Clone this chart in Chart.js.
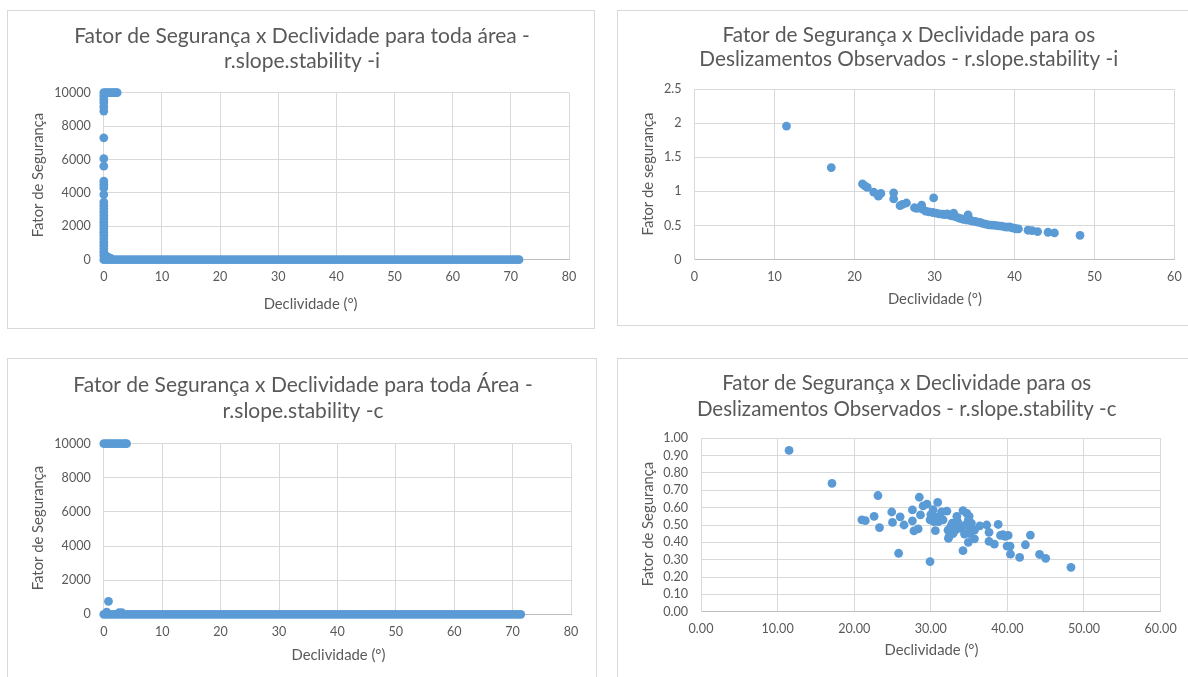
<!DOCTYPE html>
<html><head><meta charset="utf-8">
<script src="https://cdn.jsdelivr.net/npm/chart.js@4.4.0/dist/chart.umd.min.js"></script>
<style>
html,body{margin:0;padding:0;background:#fff;width:1188px;height:677px;overflow:hidden;position:relative;}
canvas{position:absolute;}
</style></head><body>
<canvas id="c1"></canvas><canvas id="c2"></canvas><canvas id="c3"></canvas><canvas id="c4"></canvas>
<script>
// ---------------- DATA ----------------
// Panel 1: whole area, r.slope.stability -i
const areaICapSlope = [0, 0.3, 0.6, 0.9, 1.2, 1.5, 1.8, 2.1, 2.3];          // FS at cap 10000
const areaICapFS = 10000;
const areaIColumnFS = [9800, 9600, 9400, 9150, 8900, 7300, 6050, 5600, 4700, 4500, 4300, 3900,
  3450, 3250, 3050, 2850, 2650, 2450, 2250, 2050, 1850, 1650, 1450, 1250, 1050, 850, 650, 450, 250]; // at slope 0
const areaILowSlope = [0.3, 0.6, 0.9, 1.2];
const areaILowFS = [250, 150, 120, 80];
// Panel 3: whole area, r.slope.stability -c
const areaCCapSlope = [0, 0.4, 0.8, 1.2, 1.6, 2.0, 2.4, 2.8, 3.2, 3.6, 3.9];
const areaCCapFS = 10000;
const areaCExtraSlope = [0.8, 0.5, 2.6, 3.1];
const areaCExtraFS = [760, 130, 90, 90];
// Floor band (FS ~ 0) for both whole-area charts
const areaFloorSlope = [0,0.5,1,1.5,2,2.5,3,3.5,4,4.5,5,5.5,6,6.5,7,7.5,8,8.5,9,9.5,10,10.5,11,11.5,12,12.5,
  13,13.5,14,14.5,15,15.5,16,16.5,17,17.5,18,18.5,19,19.5,20,20.5,21,21.5,22,22.5,23,23.5,24,24.5,25,25.5,
  26,26.5,27,27.5,28,28.5,29,29.5,30,30.5,31,31.5,32,32.5,33,33.5,34,34.5,35,35.5,36,36.5,37,37.5,38,38.5,
  39,39.5,40,40.5,41,41.5,42,42.5,43,43.5,44,44.5,45,45.5,46,46.5,47,47.5,48,48.5,49,49.5,50,50.5,51,51.5,
  52,52.5,53,53.5,54,54.5,55,55.5,56,56.5,57,57.5,58,58.5,59,59.5,60,60.5,61,61.5,62,62.5,63,63.5,64,64.5,
  65,65.5,66,66.5,67,67.5,68,68.5,69,69.5,70,70.5,71,71.4];
const areaFloorFS = 0;

// Panel 2: observed landslides, -i
const obsSlopeI = [11.5,17.1,21.0,21.3,21.6,22.4,22.9,23.0,23.3,24.9,24.9,25.7,26.0,26.5,27.5,27.8,28.4,28.5,28.9,29.3,
  29.9,29.8,30.2,30.6,31.0,31.3,31.6,31.9,32.2,32.4,32.6,33.0,33.3,33.6,34.0,34.2,34.3,34.5,34.8,35.1,
  35.4,35.7,36.0,36.4,36.8,37.2,37.6,38.0,38.4,38.8,39.1,39.4,39.7,40.0,40.2,40.5,41.7,42.2,42.9,44.2,45.0,48.2];
const obsFsI = [1.96,1.35,1.11,1.08,1.06,0.99,0.95,0.93,0.97,0.98,0.89,0.79,0.81,0.83,0.76,0.75,0.80,0.74,0.71,0.70,
  0.905,0.69,0.68,0.67,0.665,0.66,0.67,0.65,0.64,0.68,0.63,0.61,0.60,0.59,0.58,0.655,0.60,0.57,0.565,0.56,
  0.55,0.545,0.53,0.52,0.51,0.505,0.50,0.495,0.49,0.48,0.475,0.48,0.465,0.46,0.45,0.45,0.43,0.425,0.41,0.40,0.39,0.355];

// Panel 4: observed landslides, -c
const obsSlopeC = [11.5,17.1,23.1,21.0,21.45,22.6,23.3,24.9,25.0,26.0,25.8,26.5,27.6,27.6,27.8,28.35,28.5,28.65,29.0,29.5,
  29.9,29.9,30.0,30.3,30.4,30.65,30.9,31.0,30.6,31.2,31.4,31.6,32.1,32.25,32.3,32.4,32.6,32.8,32.9,33.2,
  33.4,33.5,33.7,33.9,34.2,34.2,34.4,34.5,34.7,34.9,35.0,35.1,34.9,35.1,35.3,35.7,35.7,36.4,37.3,37.6,
  37.6,38.3,38.8,39.1,39.4,39.7,40.1,39.96,40.35,40.4,41.6,42.35,43.0,44.2,45.0,48.3];
const obsFsC = [0.93,0.74,0.67,0.53,0.525,0.55,0.485,0.575,0.515,0.547,0.337,0.50,0.587,0.524,0.466,0.478,0.66,0.558,0.61,0.62,
  0.289,0.53,0.56,0.588,0.52,0.545,0.63,0.52,0.467,0.55,0.575,0.53,0.58,0.47,0.423,0.435,0.49,0.51,0.45,0.47,
  0.55,0.52,0.495,0.48,0.583,0.352,0.448,0.50,0.567,0.53,0.55,0.48,0.40,0.45,0.51,0.42,0.47,0.495,0.50,0.458,
  0.405,0.39,0.503,0.44,0.445,0.435,0.44,0.378,0.378,0.332,0.313,0.386,0.442,0.33,0.308,0.256];

// Tick labels
const areaXTicks = [0,10,20,30,40,50,60,70,80];
const areaXLabels = ['0','10','20','30','40','50','60','70','80'];
const areaYTicks = [0,2000,4000,6000,8000,10000];
const areaYLabels = ['0','2000','4000','6000','8000','10000'];
const obsXTicks = [0,10,20,30,40,50,60];
const obsIXLabels = ['0','10','20','30','40','50','60'];
const obsIYTicks = [0,0.5,1,1.5,2,2.5];
const obsIYLabels = ['0','0.5','1','1.5','2','2.5'];
const obsCXLabels = ['0.00','10.00','20.00','30.00','40.00','50.00','60.00'];
const obsCYTicks = [0,0.1,0.2,0.3,0.4,0.5,0.6,0.7,0.8,0.9,1.0];
const obsCYLabels = ['0.00','0.10','0.20','0.30','0.40','0.50','0.60','0.70','0.80','0.90','1.00'];

// ---------------- STYLE / LAYOUT ----------------
const FONT = 'Lato, "Open Sans", sans-serif';
const GRAY = '#595959';
const BLUE = '#5b9bd5';
const mctx = document.createElement('canvas').getContext('2d');
function fitSize(text, target){ mctx.font = '100px ' + FONT; return 100 * target / mctx.measureText(text).width; }
const TICK_SIZE = fitSize('10000', 36.5);
const AXIS_TITLE_SIZE = fitSize('Declividade (°)', 94);

const pts = (xs, ys) => xs.map((x, i) => ({x: x, y: Array.isArray(ys) ? ys[i] : ys}));

const PANELS = [
  { id:'c1', box:[7,10,588,319], plot:[103.8,569,92.7,259.7],
    title:['Fator de Segurança x Declividade para toda área -','r.slope.stability -i'], titleX:302, titleY:[36,61.7], titleW:456,
    yTitle:'Fator de Segurança', yTitleX:38.5, yTitleY:175, xTitle:'Declividade (°)', xTitleX:310.6, xTitleY:304,
    x:{min:0,max:80,ticks:areaXTicks,labels:areaXLabels}, y:{min:0,max:10000,ticks:areaYTicks,labels:areaYLabels},
    data:[pts(areaFloorSlope, areaFloorFS), pts(areaICapSlope, areaICapFS), pts(areaIColumnFS.map(()=>0), areaIColumnFS), pts(areaILowSlope, areaILowFS)] },
  { id:'c2', box:[617,10,575,316], plot:[694.5,1174.4,89.3,259.5],
    title:['Fator de Segurança x Declividade para os','Deslizamentos Observados - r.slope.stability -i'], titleX:908.8, titleY:[35,59.3], titleW:419,
    yTitle:'Fator de segurança', yTitleX:648.7, yTitleY:174, xTitle:'Declividade (°)', xTitleX:934.9, xTitleY:299.3,
    x:{min:0,max:60,ticks:obsXTicks,labels:obsIXLabels}, y:{min:0,max:2.5,ticks:obsIYTicks,labels:obsIYLabels},
    data:[pts(obsSlopeI, obsFsI)] },
  { id:'c3', box:[7,358,590,325], plot:[103.8,571,443.7,614.3],
    title:['Fator de Segurança x Declividade para toda Área -','r.slope.stability -c'], titleX:303, titleY:[385.7,411], titleW:459.6,
    yTitle:'Fator de Segurança', yTitleX:38.5, yTitleY:528, xTitle:'Declividade (°)', xTitleX:338.5, xTitleY:655,
    x:{min:0,max:80,ticks:areaXTicks,labels:areaXLabels}, y:{min:0,max:10000,ticks:areaYTicks,labels:areaYLabels},
    data:[pts(areaFloorSlope, areaFloorFS), pts(areaCCapSlope, areaCCapFS), pts(areaCExtraSlope, areaCExtraFS)] },
  { id:'c4', box:[617,358,575,325], plot:[701,1160.6,438.3,611.7],
    title:['Fator de Segurança x Declividade para os','Deslizamentos Observados - r.slope.stability -c'], titleX:906.7, titleY:[383.3,409], titleW:420,
    yTitle:'Fator de Segurança', yTitleX:648, yTitleY:524, xTitle:'Declividade (°)', xTitleX:931.5, xTitleY:650.7,
    x:{min:0,max:60,ticks:obsXTicks,labels:obsCXLabels}, y:{min:0,max:1,ticks:obsCYTicks,labels:obsCYLabels},
    data:[pts(obsSlopeC, obsFsC)] }
];

const textPlugin = {
  id: 'panelText',
  beforeDraw(chart, args, o) {
    const ctx = chart.ctx;
    ctx.save();
    ctx.fillStyle = '#fff'; ctx.fillRect(0, 0, chart.width, chart.height);
    ctx.strokeStyle = '#d9d9d9'; ctx.lineWidth = 1;
    ctx.strokeRect(0.5, 0.5, chart.width - 1, chart.height - 1);
    ctx.restore();
  },
  afterDraw(chart, args, o) {
    const p = PANELS[o.idx]; const ctx = chart.ctx; const bl = p.box[0], bt = p.box[1];
    ctx.save();
    ctx.fillStyle = GRAY; ctx.textAlign = 'center'; ctx.textBaseline = 'middle';
    ctx.font = '100px ' + FONT;
    const longest = Math.max(...p.title.map(t => ctx.measureText(t).width));
    ctx.font = (100 * p.titleW / longest) + 'px ' + FONT;
    p.title.forEach((t, k) => ctx.fillText(t, p.titleX - bl, p.titleY[k] - bt));
    ctx.font = AXIS_TITLE_SIZE + 'px ' + FONT;
    ctx.fillText(p.xTitle, p.xTitleX - bl, p.xTitleY - bt);
    ctx.translate(p.yTitleX - bl, p.yTitleY - bt); ctx.rotate(-Math.PI / 2);
    ctx.fillText(p.yTitle, 0, 0);
    ctx.restore();
  }
};

PANELS.forEach((p, idx) => {
  const cv = document.getElementById(p.id);
  const [bl, bt, bw, bh] = p.box;
  cv.style.left = bl + 'px'; cv.style.top = bt + 'px';
  cv.width = bw; cv.height = bh; cv.style.width = bw + 'px'; cv.style.height = bh + 'px';
  const YW = 60, XH = 30;
  const [pl, pr, pt, pb] = p.plot;
  const pad = { left: pl - bl - YW, right: bl + bw - pr, top: pt - bt, bottom: bt + bh - pb - XH };
  const tickFont = { family: FONT, size: TICK_SIZE };
  new Chart(cv, {
    type: 'scatter',
    data: { datasets: p.data.map(d => ({ data: d, backgroundColor: BLUE, borderColor: BLUE,
      pointRadius: 4.4, pointBorderWidth: 0, pointHoverRadius: 4.4, clip: false })) },
    options: {
      responsive: false, animation: false, devicePixelRatio: 1, events: [],
      layout: { padding: pad },
      plugins: { legend: { display: false }, tooltip: { enabled: false }, title: { display: false }, panelText: { idx: idx } },
      scales: {
        x: { type: 'linear', position: 'bottom', min: p.x.min, max: p.x.max,
          afterFit(s) { s.height = XH; },
          afterBuildTicks(s) { s.ticks = p.x.ticks.map(v => ({ value: v })); },
          ticks: { color: GRAY, font: tickFont, padding: 10, maxRotation: 0, autoSkip: false,
            callback: (v, i) => p.x.labels[i] },
          grid: { color: '#d9d9d9', drawTicks: false, lineWidth: 1 }, border: { color: '#bfbfbf' } },
        y: { type: 'linear', position: 'left', min: p.y.min, max: p.y.max,
          afterFit(s) { s.width = YW; },
          afterBuildTicks(s) { s.ticks = p.y.ticks.map(v => ({ value: v })); },
          ticks: { color: GRAY, font: tickFont, padding: 13, autoSkip: false,
            callback: (v, i) => p.y.labels[i] },
          grid: { color: '#d9d9d9', drawTicks: false, lineWidth: 1 }, border: { color: '#d9d9d9' } }
      }
    },
    plugins: [textPlugin]
  });
});
</script>
</body></html>
